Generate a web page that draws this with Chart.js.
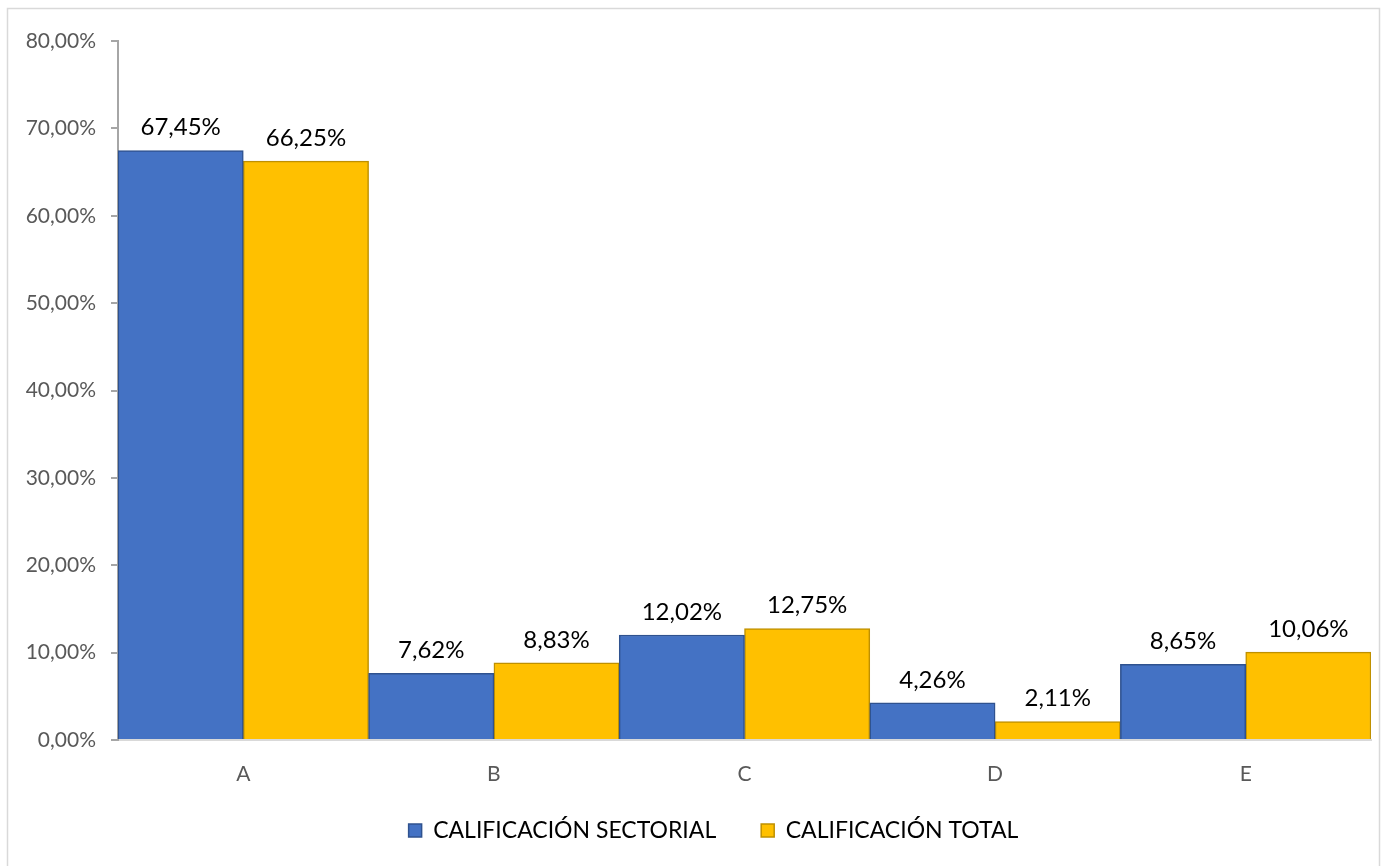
<!DOCTYPE html>
<html>
<head>
<meta charset="utf-8">
<script src="https://cdn.jsdelivr.net/npm/chart.js@4.4.0/dist/chart.umd.min.js"></script>
<style>
html,body{margin:0;padding:0;background:#fff;}
#wrap{position:relative;width:1382px;height:866px;}
</style>
</head>
<body>
<div id="wrap"><canvas id="c" width="1382" height="866"></canvas></div>
<script>
const categories = ['A', 'B', 'C', 'D', 'E'];
const seriesNames = ['CALIFICACIÓN SECTORIAL', 'CALIFICACIÓN TOTAL'];
const sectorial = [67.45, 7.62, 12.02, 4.26, 8.65];
const total = [66.25, 8.83, 12.75, 2.11, 10.06];
const yTicks = [0, 10, 20, 30, 40, 50, 60, 70, 80];

const FONT = 'Lato, "Liberation Sans", sans-serif';
const fmt = v => v.toFixed(2).replace('.', ',') + '%';

const frame = {
  id: 'frame',
  beforeDraw(chart) {
    const ctx = chart.ctx;
    ctx.save();
    ctx.fillStyle = '#fff';
    ctx.fillRect(0, 0, chart.width, chart.height);
    ctx.strokeStyle = '#d9d9d9';
    ctx.lineWidth = 1.5;
    ctx.strokeRect(7.5, 8.5, chart.width - 10, chart.height - 6);
    ctx.restore();
  }
};

const shiftLegend = {
  id: 'shiftLegend',
  afterLayout(chart) {
    const lg = chart.legend;
    if (lg) { lg.left += 28; lg.right += 28; lg.top -= 11; lg.bottom -= 11; }
  }
};

const valueLabels = {
  id: 'valueLabels',
  afterDatasetsDraw(chart) {
    const ctx = chart.ctx;
    ctx.save();
    ctx.font = '24px ' + FONT;
    ctx.fillStyle = '#000';
    ctx.textAlign = 'center';
    ctx.textBaseline = 'bottom';
    chart.data.datasets.forEach((ds, i) => {
      chart.getDatasetMeta(i).data.forEach((bar, j) => {
        ctx.fillText(fmt(ds.data[j]), bar.x, bar.y - 11);
      });
    });
    ctx.restore();
  }
};

new Chart(document.getElementById('c'), {
  type: 'bar',
  data: {
    labels: categories,
    datasets: [
      { label: seriesNames[0], data: sectorial, backgroundColor: '#4472C4', borderColor: '#2F528F', borderWidth: 1.5 },
      { label: seriesNames[1], data: total, backgroundColor: '#FFC000', borderColor: '#BF9000', borderWidth: 1.5 }
    ]
  },
  options: {
    responsive: false,
    animation: false,
    devicePixelRatio: 1,
    barPercentage: 1,
    categoryPercentage: 1,
    layout: { padding: { left: 0, right: 11, top: 41, bottom: 3 } },
    plugins: {
      tooltip: { enabled: false },
      legend: {
        position: 'bottom',
        labels: {
          font: { family: FONT, size: 23 },
          color: '#000',
          boxWidth: 13,
          boxHeight: 13,
          padding: 45
        }
      }
    },
    scales: {
      x: {
        grid: { display: false },
        border: { display: true, color: '#d9d9d9', width: 2 },
        ticks: { font: { family: FONT, size: 21 }, color: '#595959', padding: 14 },
        afterFit(s) { s.height = 45; }
      },
      y: {
        min: 0, max: 80,
        afterBuildTicks(s) { s.ticks = yTicks.map(v => ({ value: v })); },
        grid: { drawOnChartArea: false, drawTicks: true, tickLength: 7, color: '#a6a6a6', lineWidth: 2 },
        border: { display: true, color: '#a6a6a6', width: 2 },
        ticks: { font: { family: FONT, size: 21 }, color: '#595959', padding: 15, callback: v => fmt(v) },
        afterFit(s) { s.width = 118; }
      }
    }
  },
  plugins: [frame, shiftLegend, valueLabels]
});
</script>
</body>
</html>
